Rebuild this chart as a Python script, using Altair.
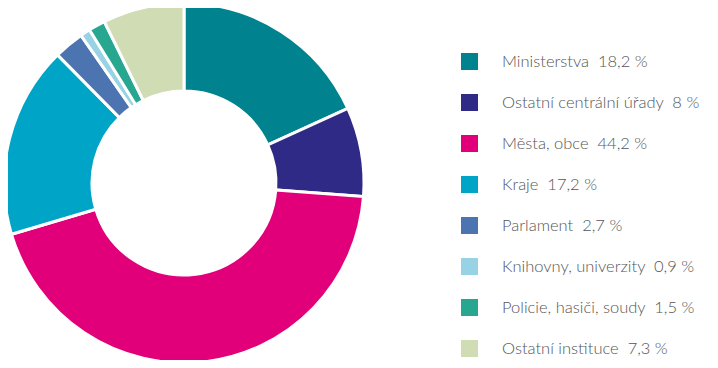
import altair as alt
import pandas as pd

categories = ["Ministerstva", "Ostatní centrální úřady", "Města, obce", "Kraje",
              "Parlament", "Knihovny, univerzity", "Policie, hasiči, soudy", "Ostatní instituce"]
values = [18.2, 8.0, 44.2, 17.2, 2.7, 0.9, 1.5, 7.3]
value_labels = ["18,2 %", "8 %", "44,2 %", "17,2 %", "2,7 %", "0,9 %", "1,5 %", "7,3 %"]
colors = ["#00838f", "#2e2a86", "#e1007a", "#00a4c6", "#4b74b1", "#97d3e4", "#27a690", "#cfdcb4"]

labels = [f"{c}\u00a0 {v}" for c, v in zip(categories, value_labels)]
df = pd.DataFrame({"label": labels, "value": values, "idx": list(range(len(values)))})

chart = alt.Chart(df).mark_arc(radius=180, radius2=92, stroke="white", strokeWidth=3).encode(
    theta=alt.Theta("value:Q", stack=True),
    order=alt.Order("idx:Q"),
    x=alt.value(176),
    y=alt.value(175),
    color=alt.Color("label:N", sort=labels,
                    scale=alt.Scale(domain=labels, range=colors),
                    legend=alt.Legend(title=None, orient="none", legendX=453, legendY=45,
                                      symbolType="square", symbolSize=289, symbolStrokeWidth=0,
                                      labelFontSize=16.5, labelFont="Lato", labelFontWeight=300,
                                      labelColor="#555555", labelOffset=24, rowPadding=24,
                                      labelLimit=400, padding=0)),
).properties(width=702, height=352, autosize=alt.AutoSizeParams(type="none"), padding=0
).configure_view(stroke=None)

chart.save("out.html", embed_options={"renderer": "svg", "actions": False})
